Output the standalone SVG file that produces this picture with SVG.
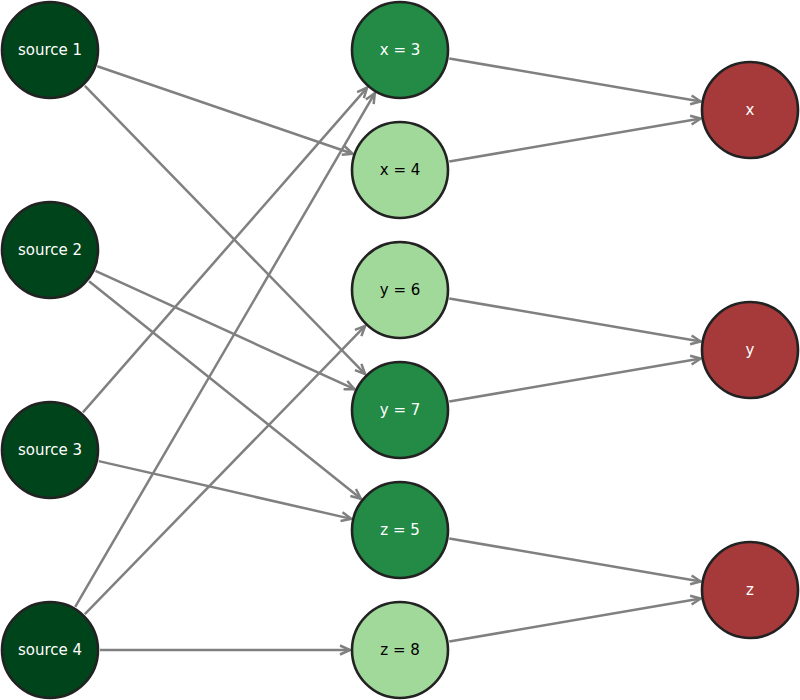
<svg xmlns="http://www.w3.org/2000/svg" width="800" height="700" viewBox="0 0 800 700">
<style>
.e{stroke:#808080;stroke-width:2.5;fill:none;marker-end:url(#arr)}
.n circle{stroke:#222;stroke-width:2.6}
.n text{font-family:"DejaVu Sans",sans-serif;font-size:15px;text-anchor:middle;dominant-baseline:central}
.src circle{fill:#00441b}
.mid circle{fill:#238b45}
.lt circle{fill:#a1d99b}
.out circle{fill:#a63a3a}
.w{fill:#fff}
.k{fill:#000}
</style>
<defs>
<marker id="arr" markerUnits="userSpaceOnUse" orient="auto" markerWidth="20" markerHeight="20" viewBox="-12 -10 14 20" refX="0" refY="0">
<path d="M-10,-4.5 L0,0 L-10,4.5" fill="none" stroke="#808080" stroke-width="2.5"/>
</marker>
</defs>
<rect width="800" height="700" fill="#fff"/>
<g id="edges">
<line class="e" x1="97.30" y1="66.22" x2="352.70" y2="153.78"/>
<line class="e" x1="84.85" y1="85.85" x2="365.15" y2="374.15"/>
<line class="e" x1="95.47" y1="270.79" x2="354.53" y2="389.21"/>
<line class="e" x1="89.04" y1="281.23" x2="360.96" y2="498.77"/>
<line class="e" x1="82.93" y1="412.37" x2="367.07" y2="87.63"/>
<line class="e" x1="98.74" y1="461.14" x2="351.26" y2="518.86"/>
<line class="e" x1="75.19" y1="606.81" x2="374.81" y2="93.19"/>
<line class="e" x1="84.85" y1="614.15" x2="365.15" y2="325.85"/>
<line class="e" x1="100" y1="650" x2="350" y2="650"/>
<line class="e" x1="449.28" y1="58.45" x2="700.72" y2="101.55"/>
<line class="e" x1="449.28" y1="161.55" x2="700.72" y2="118.45"/>
<line class="e" x1="449.28" y1="298.45" x2="700.72" y2="341.55"/>
<line class="e" x1="449.28" y1="401.55" x2="700.72" y2="358.45"/>
<line class="e" x1="449.28" y1="538.45" x2="700.72" y2="581.55"/>
<line class="e" x1="449.28" y1="641.55" x2="700.72" y2="598.45"/>
</g>
<g id="source1" class="n src"><circle cx="50" cy="50" r="48"/><text class="w" x="50" y="50">source 1</text></g>
<g id="source2" class="n src"><circle cx="50" cy="250" r="48"/><text class="w" x="50" y="250">source 2</text></g>
<g id="source3" class="n src"><circle cx="50" cy="450" r="48"/><text class="w" x="50" y="450">source 3</text></g>
<g id="source4" class="n src"><circle cx="50" cy="650" r="48"/><text class="w" x="50" y="650">source 4</text></g>
<g id="x3" class="n mid"><circle cx="400" cy="50" r="48"/><text class="w" x="400" y="50">x = 3</text></g>
<g id="x4" class="n lt"><circle cx="400" cy="170" r="48"/><text class="k" x="400" y="170">x = 4</text></g>
<g id="y6" class="n lt"><circle cx="400" cy="290" r="48"/><text class="k" x="400" y="290">y = 6</text></g>
<g id="y7" class="n mid"><circle cx="400" cy="410" r="48"/><text class="w" x="400" y="410">y = 7</text></g>
<g id="z5" class="n mid"><circle cx="400" cy="530" r="48"/><text class="w" x="400" y="530">z = 5</text></g>
<g id="z8" class="n lt"><circle cx="400" cy="650" r="48"/><text class="k" x="400" y="650">z = 8</text></g>
<g id="x" class="n out"><circle cx="750" cy="110" r="48"/><text class="w" x="750" y="110">x</text></g>
<g id="y" class="n out"><circle cx="750" cy="350" r="48"/><text class="w" x="750" y="350">y</text></g>
<g id="z" class="n out"><circle cx="750" cy="590" r="48"/><text class="w" x="750" y="590">z</text></g>
</svg>
